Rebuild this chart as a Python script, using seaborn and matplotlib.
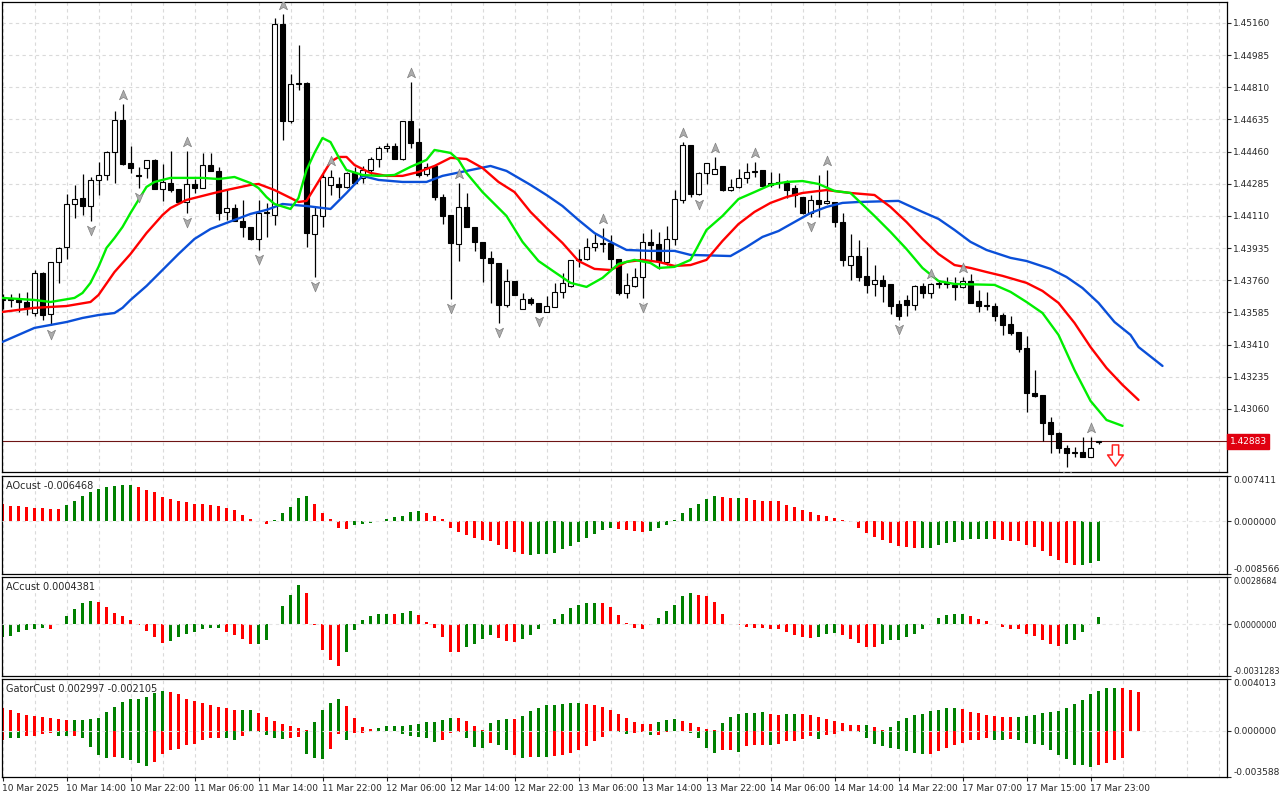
import matplotlib
matplotlib.use("Agg")
import matplotlib.pyplot as plt
from matplotlib.path import Path
from matplotlib.transforms import blended_transform_factory
import seaborn as sns

# ---------------- price data (H1 candles) ----------------
opens = [1.43653, 1.43653, 1.43653, 1.43642, 1.43582, 1.43800, 1.43577, 1.43860, 1.43941, 1.44175,
         1.44208, 1.44164, 1.44306, 1.44333, 1.44458, 1.44632, 1.44398, 1.44333, 1.44371, 1.44415,
         1.44257, 1.44289, 1.44257, 1.44186, 1.44284, 1.44262, 1.44387, 1.44355, 1.44132, 1.44153,
         1.44083, 1.44050, 1.43985, 1.44126, 1.44115, 1.45154, 1.44627, 1.44828, 1.44833, 1.44012,
         1.44110, 1.44279, 1.44284, 1.44268, 1.44344, 1.44317, 1.44360, 1.44420, 1.44480, 1.44491,
         1.44420, 1.44627, 1.44512, 1.44338, 1.44382, 1.44213, 1.44115, 1.43958, 1.44159, 1.44050,
         1.43969, 1.43882, 1.43854, 1.43626, 1.43756, 1.43604, 1.43658, 1.43637, 1.43588, 1.43615,
         1.43697, 1.43729, 1.43876, 1.43876, 1.43941, 1.43963, 1.43963, 1.43876, 1.43691, 1.43729,
         1.43778, 1.43969, 1.43958, 1.43860, 1.43985, 1.44197, 1.44496, 1.44230, 1.44344, 1.44338,
         1.44382, 1.44251, 1.44268, 1.44317, 1.44349, 1.44360, 1.44279, 1.44289, 1.44289, 1.44262,
         1.44213, 1.44126, 1.44197, 1.44181, 1.44186, 1.44077, 1.43843, 1.43892, 1.43784, 1.43740,
         1.43762, 1.43740, 1.43631, 1.43653, 1.43626, 1.43729, 1.43691, 1.43740, 1.43746, 1.43735,
         1.43724, 1.43756, 1.43648, 1.43620, 1.43620, 1.43571, 1.43522, 1.43479, 1.43392, 1.43147,
         1.43136, 1.42989, 1.42929, 1.42848, 1.42821, 1.42826, 1.42799, 1.42880]
highs = [1.43686, 1.43686, 1.43691, 1.43697, 1.43816, 1.43805, 1.43860, 1.43941, 1.44230, 1.44279,
         1.44338, 1.44322, 1.44404, 1.44464, 1.44681, 1.44719, 1.44491, 1.44377, 1.44415, 1.44420,
         1.44393, 1.44464, 1.44257, 1.44464, 1.44311, 1.44453, 1.44453, 1.44377, 1.44257, 1.44175,
         1.44197, 1.44050, 1.44197, 1.44181, 1.45187, 1.45209, 1.44882, 1.45040, 1.44839, 1.44159,
         1.44344, 1.44360, 1.44322, 1.44349, 1.44377, 1.44382, 1.44431, 1.44491, 1.44507, 1.44507,
         1.44627, 1.44839, 1.44589, 1.44398, 1.44382, 1.44230, 1.44115, 1.44289, 1.44235, 1.44050,
         1.43969, 1.43920, 1.43854, 1.43822, 1.43756, 1.43691, 1.43669, 1.43637, 1.43675, 1.43746,
         1.43800, 1.43871, 1.43930, 1.43990, 1.44017, 1.44045, 1.44007, 1.43876, 1.43800, 1.43827,
         1.44017, 1.44039, 1.44023, 1.44056, 1.44251, 1.44512, 1.44496, 1.44349, 1.44398, 1.44431,
         1.44382, 1.44311, 1.44366, 1.44398, 1.44404, 1.44360, 1.44349, 1.44344, 1.44306, 1.44279,
         1.44213, 1.44224, 1.44333, 1.44360, 1.44186, 1.44126, 1.44012, 1.43979, 1.43941, 1.43843,
         1.43789, 1.43740, 1.43653, 1.43680, 1.43735, 1.43746, 1.43746, 1.43762, 1.43778, 1.43778,
         1.43778, 1.43794, 1.43707, 1.43697, 1.43637, 1.43582, 1.43566, 1.43479, 1.43457, 1.43272,
         1.43136, 1.43016, 1.42935, 1.42864, 1.42853, 1.42907, 1.42907, 1.42886]
lows = [1.43604, 1.43615, 1.43588, 1.43571, 1.43566, 1.43544, 1.43517, 1.43746, 1.43876, 1.44099,
        1.44115, 1.44083, 1.44224, 1.44306, 1.44289, 1.44387, 1.44344, 1.44262, 1.44317, 1.44257,
        1.44192, 1.44240, 1.44186, 1.44126, 1.44235, 1.44262, 1.44355, 1.44088, 1.44088, 1.44083,
        1.43996, 1.43979, 1.43925, 1.43996, 1.44061, 1.44523, 1.44616, 1.44795, 1.43941, 1.43778,
        1.44050, 1.44224, 1.44208, 1.44262, 1.44284, 1.44289, 1.44333, 1.44377, 1.44458, 1.44420,
        1.44415, 1.44480, 1.44322, 1.44328, 1.44197, 1.44066, 1.43658, 1.43865, 1.44050, 1.43920,
        1.43751, 1.43637, 1.43528, 1.43615, 1.43680, 1.43604, 1.43626, 1.43588, 1.43588, 1.43615,
        1.43664, 1.43724, 1.43833, 1.43871, 1.43920, 1.43914, 1.43827, 1.43680, 1.43664, 1.43724,
        1.43664, 1.43871, 1.43822, 1.43843, 1.43952, 1.44181, 1.44213, 1.44224, 1.44284, 1.44338,
        1.44246, 1.44246, 1.44262, 1.44289, 1.44322, 1.44268, 1.44268, 1.44262, 1.44208, 1.44159,
        1.44121, 1.44105, 1.44105, 1.44175, 1.44050, 1.43838, 1.43762, 1.43756, 1.43691, 1.43675,
        1.43642, 1.43577, 1.43544, 1.43566, 1.43599, 1.43664, 1.43664, 1.43718, 1.43718, 1.43653,
        1.43718, 1.43637, 1.43588, 1.43599, 1.43539, 1.43463, 1.43463, 1.43370, 1.43044, 1.43125,
        1.42886, 1.42821, 1.42821, 1.42745, 1.42799, 1.42799, 1.42799, 1.42870]
closes = [1.43658, 1.43658, 1.43642, 1.43615, 1.43800, 1.43571, 1.43860, 1.43936, 1.44175, 1.44202,
          1.44164, 1.44306, 1.44333, 1.44458, 1.44632, 1.44393, 1.44371, 1.44328, 1.44415, 1.44257,
          1.44295, 1.44251, 1.44186, 1.44284, 1.44262, 1.44387, 1.44355, 1.44126, 1.44153, 1.44083,
          1.44050, 1.43985, 1.44126, 1.44132, 1.45154, 1.44627, 1.44828, 1.44833, 1.44017, 1.44115,
          1.44322, 1.44322, 1.44268, 1.44344, 1.44289, 1.44360, 1.44420, 1.44480, 1.44491, 1.44420,
          1.44627, 1.44507, 1.44333, 1.44377, 1.44213, 1.44110, 1.43963, 1.44159, 1.44050, 1.43969,
          1.43882, 1.43854, 1.43626, 1.43756, 1.43680, 1.43658, 1.43637, 1.43588, 1.43620, 1.43697,
          1.43746, 1.43871, 1.43871, 1.43941, 1.43963, 1.43958, 1.43876, 1.43691, 1.43735, 1.43778,
          1.43969, 1.43952, 1.43865, 1.43985, 1.44202, 1.44496, 1.44230, 1.44344, 1.44398, 1.44366,
          1.44251, 1.44268, 1.44317, 1.44349, 1.44355, 1.44273, 1.44289, 1.44295, 1.44251, 1.44224,
          1.44126, 1.44197, 1.44175, 1.44192, 1.44077, 1.43871, 1.43892, 1.43778, 1.43735, 1.43762,
          1.43729, 1.43620, 1.43566, 1.43626, 1.43729, 1.43691, 1.43740, 1.43746, 1.43740, 1.43724,
          1.43756, 1.43637, 1.43620, 1.43626, 1.43566, 1.43517, 1.43473, 1.43386, 1.43147, 1.43131,
          1.42984, 1.42924, 1.42848, 1.42821, 1.42826, 1.42799, 1.42848, 1.42883]

# Alligator lines (bar index, price)
lips_bars = [0, 4, 6, 9, 10, 11, 12, 13, 14, 15, 16, 17, 18, 19, 21, 25, 27, 29, 31, 32, 33, 34, 36, 37, 38,
             39, 40, 41, 42, 43, 45, 47, 49, 51, 53, 54, 56, 57, 58, 60, 63, 65, 67, 69, 71, 73, 75, 77, 79,
             81, 82, 84, 86, 87, 88, 90, 92, 94, 96, 98, 100, 102, 104, 106, 109, 111, 113, 115, 117, 119,
             124, 126, 128, 130, 132, 134, 136, 138, 140]
lips_vals = [1.43664, 1.43653, 1.43642, 1.43664, 1.43691, 1.43746, 1.43833, 1.43936, 1.43990, 1.44050,
             1.44126, 1.44197, 1.44268, 1.44295, 1.44317, 1.44317, 1.44311, 1.44322, 1.44289, 1.44262,
             1.44213, 1.44175, 1.44148, 1.44208, 1.44360, 1.44453, 1.44534, 1.44512, 1.44431, 1.44360,
             1.44333, 1.44328, 1.44333, 1.44377, 1.44415, 1.44469, 1.44453, 1.44415, 1.44344, 1.44240,
             1.44110, 1.43969, 1.43865, 1.43805, 1.43746, 1.43724, 1.43773, 1.43849, 1.43871, 1.43854,
             1.43827, 1.43833, 1.43871, 1.43952, 1.44034, 1.44110, 1.44202, 1.44240, 1.44279, 1.44295,
             1.44300, 1.44284, 1.44246, 1.44235, 1.44110, 1.44023, 1.43930, 1.43827, 1.43756, 1.43740,
             1.43735, 1.43697, 1.43642, 1.43582, 1.43463, 1.43272, 1.43104, 1.43000, 1.42968]
teeth_bars = [0, 4, 8, 11, 12, 14, 16, 18, 20, 21, 23, 26, 28, 31, 32, 34, 36, 37, 38, 39, 40, 41, 42, 43,
              44, 46, 48, 50, 52, 54, 56, 58, 60, 62, 64, 66, 68, 70, 72, 74, 76, 78, 80, 82, 84, 86, 88,
              90, 92, 94, 96, 98, 100, 103, 106, 109, 111, 113, 115, 117, 119, 121, 123, 125, 128, 130,
              132, 134, 136, 138, 140, 142]
teeth_vals = [1.43588, 1.43610, 1.43620, 1.43642, 1.43680, 1.43805, 1.43903, 1.44017, 1.44115, 1.44153,
              1.44197, 1.44230, 1.44251, 1.44279, 1.44284, 1.44251, 1.44208, 1.44186, 1.44192, 1.44262,
              1.44333, 1.44404, 1.44431, 1.44431, 1.44387, 1.44344, 1.44328, 1.44328, 1.44349, 1.44382,
              1.44426, 1.44420, 1.44371, 1.44295, 1.44240, 1.44132, 1.44045, 1.43963, 1.43865, 1.43822,
              1.43816, 1.43860, 1.43871, 1.43860, 1.43838, 1.43843, 1.43871, 1.43974, 1.44066, 1.44132,
              1.44181, 1.44213, 1.44235, 1.44251, 1.44235, 1.44224, 1.44159, 1.44077, 1.43985, 1.43903,
              1.43843, 1.43827, 1.43805, 1.43784, 1.43746, 1.43702, 1.43637, 1.43528, 1.43397, 1.43283,
              1.43191, 1.43109]
jaw_bars = [0, 4, 6, 8, 10, 12, 14, 15, 16, 18, 20, 22, 24, 26, 28, 31, 33, 35, 38, 41, 43, 45, 47, 50,
            53, 55, 58, 61, 63, 66, 68, 70, 72, 74, 76, 78, 81, 84, 86, 91, 93, 95, 97, 99, 101, 103, 105,
            107, 112, 115, 117, 119, 121, 123, 126, 128, 131, 133, 135, 137, 139, 141, 142, 145]
jaw_vals = [1.43425, 1.43501, 1.43517, 1.43533, 1.43555, 1.43571, 1.43582, 1.43610, 1.43653, 1.43729,
            1.43816, 1.43903, 1.43985, 1.44039, 1.44072, 1.44121, 1.44143, 1.44175, 1.44164, 1.44148,
            1.44235, 1.44328, 1.44306, 1.44295, 1.44295, 1.44328, 1.44355, 1.44382, 1.44355, 1.44279,
            1.44224, 1.44164, 1.44088, 1.44017, 1.43969, 1.43925, 1.43920, 1.43920, 1.43898, 1.43892,
            1.43941, 1.43996, 1.44028, 1.44077, 1.44126, 1.44159, 1.44181, 1.44186, 1.44192, 1.44132,
            1.44094, 1.44034, 1.43969, 1.43925, 1.43882, 1.43865, 1.43822, 1.43778, 1.43718, 1.43637,
            1.43533, 1.43463, 1.43397, 1.43294]

# Fractal bars and sell signal
fractal_up = [15, 23, 35, 41, 51, 57, 75, 85, 89, 94, 103, 116, 120, 136]
fractal_dn = [6, 11, 17, 23, 32, 39, 56, 62, 67, 80, 87, 101, 112, 133]
signal_bar = 139
signal_price = 1.42810

# ---------------- indicator data ----------------
ao_vals = [0.00281, 0.00254, 0.00254, 0.00239, 0.00223, 0.00212, 0.00201, 0.00196, 0.00270, 0.00334,
           0.00413, 0.00477, 0.00530, 0.00557, 0.00572, 0.00594, 0.00599, 0.00557, 0.00519, 0.00477,
           0.00392, 0.00360, 0.00329, 0.00318, 0.00286, 0.00281, 0.00270, 0.00254, 0.00223, 0.00180,
           0.00111, 0.00032, 0.00011, -0.00042, 0.00016, 0.00133, 0.00239, 0.00387, 0.00413, 0.00292,
           0.00133, 0.00032, -0.00111, -0.00127, -0.00064, -0.00042, -0.00027, 0.00005, 0.00048, 0.00069,
           0.00095, 0.00159, 0.00164, 0.00133, 0.00095, 0.00037, -0.00111, -0.00175, -0.00223, -0.00270,
           -0.00302, -0.00318, -0.00387, -0.00445, -0.00493, -0.00535, -0.00551, -0.00535, -0.00535, -0.00509,
           -0.00456, -0.00398, -0.00329, -0.00265, -0.00201, -0.00138, -0.00111, -0.00122, -0.00143, -0.00154,
           -0.00170, -0.00148, -0.00106, -0.00058, 0.00021, 0.00133, 0.00223, 0.00292, 0.00360, 0.00413,
           0.00398, 0.00382, 0.00382, 0.00376, 0.00345, 0.00334, 0.00334, 0.00329, 0.00270, 0.00239,
           0.00191, 0.00148, 0.00111, 0.00090, 0.00058, 0.00021, -0.00016, -0.00106, -0.00186, -0.00249,
           -0.00297, -0.00350, -0.00392, -0.00424, -0.00429, -0.00440, -0.00429, -0.00387, -0.00350, -0.00334,
           -0.00302, -0.00286, -0.00281, -0.00281, -0.00286, -0.00297, -0.00313, -0.00323, -0.00376, -0.00424,
           -0.00488, -0.00562, -0.00636, -0.00684, -0.00710, -0.00710, -0.00684, -0.006468]
ao_runs = [("r", 8), ("g", 9), ("r", 17), ("g", 5), ("r", 5), ("g", 9), ("r", 13), ("g", 11), ("r", 4),
           ("g", 9), ("r", 2), ("g", 1), ("r", 22), ("g", 9), ("r", 11), ("g", 3)]

ac_vals = [-0.00074, -0.00070, -0.00044, -0.00034, -0.00026, -0.00020, -0.00026, 0.00002, 0.00050, 0.00092,
           0.00130, 0.00140, 0.00134, 0.00104, 0.00068, 0.00050, 0.00026, -0.00006, -0.00038, -0.00076,
           -0.00110, -0.00098, -0.00076, -0.00056, -0.00044, -0.00026, -0.00025, -0.00020, -0.00044, -0.00064,
           -0.00086, -0.00118, -0.00116, -0.00092, 0.00004, 0.00110, 0.00176, 0.00236, 0.00190, -0.00004,
           -0.00154, -0.00216, -0.00254, -0.00170, -0.00034, 0.00026, 0.00050, 0.00060, 0.00062, 0.00060,
           0.00070, 0.00080, 0.00056, 0.00014, -0.00020, -0.00074, -0.00166, -0.00168, -0.00140, -0.00116,
           -0.00086, -0.00064, -0.00080, -0.00098, -0.00104, -0.00090, -0.00064, -0.00026, 0.00002, 0.00034,
           0.00064, 0.00098, 0.00116, 0.00128, 0.00130, 0.00128, 0.00104, 0.00056, 0.00006, -0.00022,
           -0.00028, -0.00002, 0.00038, 0.00080, 0.00116, 0.00170, 0.00188, 0.00176, 0.00170, 0.00136,
           0.00062, 0.00004, -0.00004, -0.00016, -0.00020, -0.00022, -0.00026, -0.00028, -0.00044, -0.00062,
           -0.00076, -0.00080, -0.00074, -0.00056, -0.00050, -0.00062, -0.00086, -0.00110, -0.00136, -0.00140,
           -0.00122, -0.00096, -0.00092, -0.00074, -0.00056, -0.00026, -0.00002, 0.00038, 0.00056, 0.00062,
           0.00064, 0.00050, 0.00034, 0.00020, 0.00004, -0.00014, -0.00026, -0.00028, -0.00056, -0.00070,
           -0.00092, -0.00122, -0.00134, -0.00122, -0.00092, -0.00044, -0.00002, 0.0004381]
ac_runs = [("g", 6), ("r", 1), ("g", 5), ("r", 9), ("g", 7), ("r", 4), ("g", 6), ("r", 5), ("g", 6),
           ("r", 1), ("g", 2), ("r", 6), ("g", 4), ("r", 3), ("g", 10), ("r", 6), ("g", 6), ("r", 15),
           ("g", 3), ("r", 5), ("g", 11), ("r", 12), ("g", 5)]

gator_up = [0.00173, 0.00158, 0.00138, 0.00120, 0.00113, 0.00105, 0.00098, 0.00093, 0.00083, 0.00083,
            0.00084, 0.00093, 0.00100, 0.00145, 0.00188, 0.00225, 0.00243, 0.00244, 0.00263, 0.00293,
            0.00308, 0.00298, 0.00283, 0.00248, 0.00233, 0.00215, 0.00200, 0.00183, 0.00173, 0.00158,
            0.00159, 0.00160, 0.00138, 0.00105, 0.00075, 0.00053, 0.00035, 0.00020, 0.00008, 0.00068,
            0.00158, 0.00218, 0.00248, 0.00195, 0.00098, 0.00028, 0.00015, 0.00023, 0.00038, 0.00038,
            0.00033, 0.00048, 0.00053, 0.00068, 0.00068, 0.00083, 0.00098, 0.00097, 0.00075, 0.00038,
            0.00008, 0.00060, 0.00083, 0.00090, 0.00089, 0.00113, 0.00150, 0.00180, 0.00203, 0.00203,
            0.00210, 0.00218, 0.00218, 0.00210, 0.00203, 0.00188, 0.00158, 0.00128, 0.00098, 0.00068,
            0.00053, 0.00052, 0.00068, 0.00083, 0.00090, 0.00075, 0.00060, 0.00030, 0.00015, 0.00008,
            0.00060, 0.00105, 0.00128, 0.00135, 0.00138, 0.00143, 0.00128, 0.00120, 0.00128, 0.00128,
            0.00127, 0.00120, 0.00105, 0.00090, 0.00075, 0.00060, 0.00045, 0.00044, 0.00045, 0.00030,
            0.00008, 0.00030, 0.00075, 0.00098, 0.00120, 0.00128, 0.00150, 0.00158, 0.00173, 0.00174,
            0.00165, 0.00143, 0.00135, 0.00120, 0.00113, 0.00105, 0.00104, 0.00105, 0.00113, 0.00120,
            0.00135, 0.00143, 0.00150, 0.00180, 0.00210, 0.00240, 0.00285, 0.00308, 0.00328, 0.00330,
            0.00329, 0.00315, 0.002997]
gator_up_runs = [("r", 9), ("g", 12), ("r", 9), ("g", 2), ("r", 7), ("g", 4), ("r", 4), ("g", 10), ("r", 4),
                 ("g", 3), ("r", 1), ("g", 8), ("r", 9), ("g", 3), ("r", 5), ("g", 6), ("r", 2), ("g", 2),
                 ("r", 8), ("g", 1), ("r", 2), ("g", 9), ("r", 7), ("g", 13), ("r", 3)]
gator_dn = [-0.00073, -0.00053, -0.00058, -0.00043, -0.00038, -0.00028, -0.00018, -0.00038, -0.00039, -0.00037,
            -0.00058, -0.00128, -0.00185, -0.00208, -0.00203, -0.00215, -0.00228, -0.00253, -0.00270, -0.00240,
            -0.00183, -0.00153, -0.00140, -0.00110, -0.00103, -0.00073, -0.00058, -0.00057, -0.00058, -0.00068,
            -0.00038, -0.00013, -0.00013, -0.00033, -0.00053, -0.00063, -0.00053, -0.00052, -0.00183, -0.00208,
            -0.00223, -0.00138, -0.00028, -0.00068, -0.00018, -0.00017, -0.00010, -0.00005, -0.00003, -0.00005,
            -0.00023, -0.00040, -0.00045, -0.00053, -0.00088, -0.00068, -0.00015, -0.00010, -0.00058, -0.00128,
            -0.00133, -0.00098, -0.00108, -0.00148, -0.00185, -0.00208, -0.00207, -0.00203, -0.00204, -0.00193,
            -0.00185, -0.00170, -0.00148, -0.00118, -0.00080, -0.00045, -0.00005, -0.00013, -0.00028, -0.00015,
            -0.00008, -0.00035, -0.00033, -0.00013, -0.00003, -0.00005, -0.00015, -0.00058, -0.00133, -0.00170,
            -0.00153, -0.00148, -0.00163, -0.00118, -0.00113, -0.00110, -0.00113, -0.00100, -0.00083, -0.00078,
            -0.00065, -0.00043, -0.00065, -0.00035, -0.00025, -0.00005, -0.00003, -0.00008, -0.00053, -0.00103,
            -0.00120, -0.00133, -0.00145, -0.00158, -0.00170, -0.00178, -0.00177, -0.00158, -0.00133, -0.00110,
            -0.00095, -0.00073, -0.00072, -0.00060, -0.00068, -0.00069, -0.00067, -0.00073, -0.00095, -0.00103,
            -0.00110, -0.00153, -0.00185, -0.00223, -0.00263, -0.00268, -0.00278, -0.00268, -0.00253, -0.00228,
            -0.002105]
gator_dn_runs = [("r", 1), ("g", 2), ("r", 4), ("g", 2), ("r", 1), ("g", 4), ("r", 1), ("g", 4), ("r", 9),
                 ("g", 2), ("r", 1), ("g", 5), ("r", 2), ("g", 3), ("r", 2), ("g", 1), ("r", 4), ("g", 7),
                 ("r", 3), ("g", 3), ("r", 1), ("g", 2), ("r", 1), ("g", 1), ("r", 1), ("g", 2), ("r", 8),
                 ("g", 2), ("r", 2), ("g", 1), ("r", 3), ("g", 5), ("r", 2), ("g", 1), ("r", 3), ("g", 1),
                 ("r", 5), ("g", 1), ("r", 4), ("g", 9), ("r", 8), ("g", 2), ("r", 1), ("g", 10), ("r", 4)]

# ---------------- axis labels ----------------
price_ticks = [1.43060, 1.43235, 1.43410, 1.43585, 1.43760, 1.43935, 1.44110,
               1.44285, 1.44460, 1.44635, 1.44810, 1.44985, 1.45160]
ao_ticks = [-0.008566, 0.0, 0.007411]
ac_ticks = [-0.0031283, 0.0, 0.0028684]
gator_ticks = [-0.003588, 0.0, 0.004013]
time_bars = [0, 8, 16, 24, 32, 40, 48, 56, 64, 72, 80, 88, 96, 104, 112, 120, 128, 136]
time_labels = ["10 Mar 2025", "10 Mar 14:00", "10 Mar 22:00", "11 Mar 06:00", "11 Mar 14:00",
               "11 Mar 22:00", "12 Mar 06:00", "12 Mar 14:00", "12 Mar 22:00", "13 Mar 06:00",
               "13 Mar 14:00", "13 Mar 22:00", "14 Mar 06:00", "14 Mar 14:00", "14 Mar 22:00",
               "17 Mar 07:00", "17 Mar 15:00", "17 Mar 23:00"]

GREEN_H = "#008000"
RED_H = "#ff0000"
GRID = "#dadada"
XMIN, XMAX = -0.125, 153.0
FS = 6.5


def expand(runs):
    return [GREEN_H if c == "g" else RED_H for c, n in runs for _ in range(n)]


def base_style(ax, ticks, fmt, size=FS):
    ax.set_xlim(XMIN, XMAX)
    ax.yaxis.tick_right()
    ax.set_yticks(ticks)
    ax.set_yticklabels([fmt.format(t) for t in ticks])
    ax.tick_params(axis="y", length=3, width=0.8, pad=2, labelsize=size, direction="out")
    ax.tick_params(axis="x", bottom=False, labelbottom=False)
    for g in range(0, 153, 4):
        ax.axvline(g, color=GRID, lw=0.8, ls=(0, (3, 3)), zorder=0)
    for s in ax.spines.values():
        s.set_color("black")
        s.set_linewidth(0.9)


def indicator(ax, ticks, fmt, title, size=FS):
    base_style(ax, ticks, fmt, size)
    ax.set_ylim(ticks[0], ticks[-1])
    ax.axhline(0, color="#e4e4e4", lw=0.8, ls=(0, (3, 3)), zorder=3)
    labels = ax.get_yticklabels()
    labels[0].set_verticalalignment("bottom")
    labels[-1].set_verticalalignment("top")
    ax.text(0.004, 0.95, title, transform=ax.transAxes, ha="left", va="top", fontsize=FS + 0.5)


sns.set_style("white")
plt.rcParams["font.family"] = ["DejaVu Sans"]

fig = plt.figure(figsize=(12.8, 8), dpi=100)
W = 1225 / 1280
ax = fig.add_axes([1.5 / 1280, 1 - 472 / 800, W, 470 / 800])
ax_ao = fig.add_axes([1.5 / 1280, 1 - 574 / 800, W, 98 / 800])
ax_ac = fig.add_axes([1.5 / 1280, 1 - 676 / 800, W, 99 / 800])
ax_gt = fig.add_axes([1.5 / 1280, 1 - 777 / 800, W, 98 / 800])

# ---------------- main price panel ----------------
base_style(ax, price_ticks, "{:.5f}")
ax.set_ylim(1.42717, 1.45274)
for p in price_ticks:
    ax.axhline(p, color=GRID, lw=0.8, ls=(0, (3, 3)), zorder=0)

idx = list(range(len(closes)))
ax.vlines(idx, lows, highs, color="black", lw=0.9, zorder=2)
body_bottom = [min(o, c) for o, c in zip(opens, closes)]
body_height = [abs(c - o) for o, c in zip(opens, closes)]
body_face = ["white" if c >= o else "black" for o, c in zip(opens, closes)]
ax.bar(idx, body_height, bottom=body_bottom, width=0.56, color=body_face,
       edgecolor="black", linewidth=0.8, zorder=3)

sns.lineplot(x=jaw_bars, y=jaw_vals, ax=ax, color="#0a4fd8", linewidth=1.7, zorder=4)
sns.lineplot(x=teeth_bars, y=teeth_vals, ax=ax, color="#ff0000", linewidth=1.7, zorder=4)
sns.lineplot(x=lips_bars, y=lips_vals, ax=ax, color="#00ee00", linewidth=1.7, zorder=4)

up_marker = Path([(0, 1), (0.75, -0.8), (0, -0.35), (-0.75, -0.8), (0, 1)],
                 [Path.MOVETO, Path.LINETO, Path.LINETO, Path.LINETO, Path.CLOSEPOLY])
dn_marker = Path([(0, -1), (0.75, 0.8), (0, 0.35), (-0.75, 0.8), (0, -1)],
                 [Path.MOVETO, Path.LINETO, Path.LINETO, Path.LINETO, Path.CLOSEPOLY])
ax.scatter(fractal_up, [highs[i] + 0.0005 for i in fractal_up], marker=up_marker, s=60,
           color="#acacac", edgecolors="#808080", linewidths=0.5, zorder=5)
ax.scatter(fractal_dn, [lows[i] - 0.0005 for i in fractal_dn], marker=dn_marker, s=60,
           color="#acacac", edgecolors="#808080", linewidths=0.5, zorder=5)

sell_marker = Path([(-0.3, 1), (0.3, 1), (0.3, 0.05), (0.75, 0.05), (0, -1), (-0.75, 0.05),
                    (-0.3, 0.05), (-0.3, 1)],
                   [Path.MOVETO] + [Path.LINETO] * 6 + [Path.CLOSEPOLY])
ax.scatter([signal_bar], [signal_price], marker=sell_marker, s=230, color="white",
           edgecolors="#ff2020", linewidths=1.1, zorder=5)

last_price = closes[-1]
ax.axhline(last_price, color="#6e1414", lw=0.8, zorder=1)
ax.text(1.0025, last_price, f"{last_price:.5f}", transform=blended_transform_factory(ax.transAxes, ax.transData),
        ha="left", va="center", color="white", fontsize=FS, clip_on=False,
        bbox=dict(boxstyle="square,pad=0.3", fc="#e00010", ec="#e00010"))

# ---------------- AO ----------------
indicator(ax_ao, ao_ticks, "{:.6f}", f"AOcust {ao_vals[-1]:.6f}")
ax_ao.bar(range(len(ao_vals)), ao_vals, width=0.42, color=expand(ao_runs), linewidth=0, zorder=2)

# ---------------- AC ----------------
indicator(ax_ac, ac_ticks, "{:.7f}", f"ACcust {ac_vals[-1]:.7f}", size=5.9)
ax_ac.bar(range(len(ac_vals)), ac_vals, width=0.42, color=expand(ac_runs), linewidth=0, zorder=2)

# ---------------- Gator ----------------
indicator(ax_gt, gator_ticks, "{:.6f}", f"GatorCust {gator_up[-1]:.6f} {gator_dn[-1]:.6f}")
ax_gt.bar(range(len(gator_up)), gator_up, width=0.42, color=expand(gator_up_runs), linewidth=0, zorder=2)
ax_gt.bar(range(len(gator_dn)), gator_dn, width=0.42, color=expand(gator_dn_runs), linewidth=0, zorder=2)

ax_gt.set_xticks(time_bars)
ax_gt.set_xticklabels(time_labels, ha="left")
ax_gt.tick_params(axis="x", bottom=True, labelbottom=True, length=3, width=0.8, pad=2,
                  labelsize=FS, direction="out")

fig.savefig("out.png", dpi=100)
